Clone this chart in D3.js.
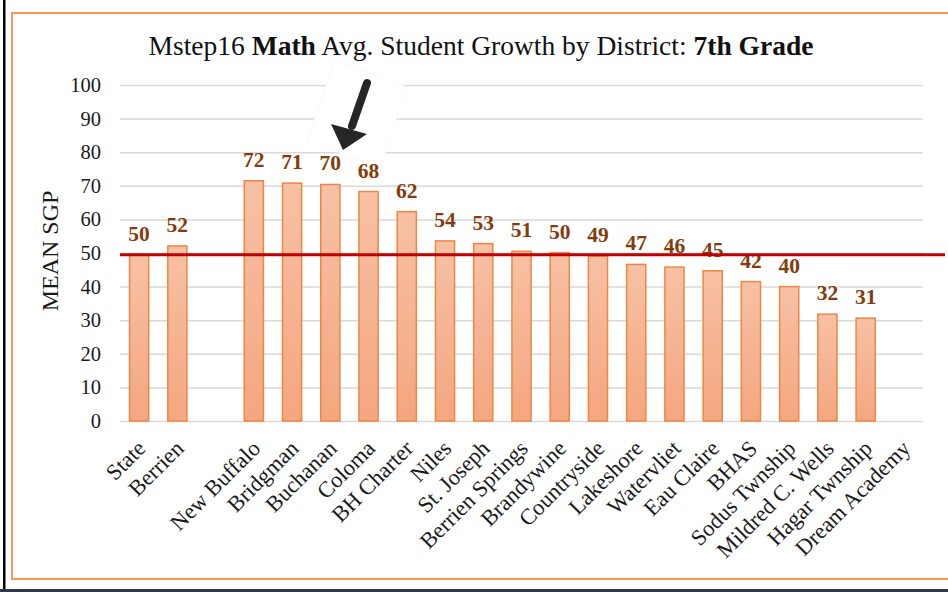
<!DOCTYPE html>
<html>
<head>
<meta charset="utf-8">
<script src="https://cdn.jsdelivr.net/npm/d3@7"></script>
<style>
  body { margin: 0; background: #fff; }
  svg { display: block; }
</style>
</head>
<body>
<div id="chart"></div>
<script>
// districts in plot order; the blank slot is the gap after Berrien
const districts = ['State', 'Berrien', ' ', 'New Buffalo', 'Bridgman', 'Buchanan', 'Coloma', 'BH Charter',
  'Niles', 'St. Joseph', 'Berrien Springs', 'Brandywine', 'Countryside', 'Lakeshore', 'Watervliet',
  'Eau Claire', 'BHAS', 'Sodus Twnship', 'Mildred C. Wells', 'Hagar Twnship', 'Dream Academy'];
const meanSgp = [49.5, 52.1, null, 71.5, 70.8, 70.4, 68.3, 62.3,
  53.6, 52.8, 50.5, 50.1, 49.1, 46.6, 45.8,
  44.7, 41.5, 40.0, 31.8, 30.6, null];
const yTicks = [0, 10, 20, 30, 40, 50, 60, 70, 80, 90, 100];
const stateAvg = meanSgp[0];

const W = 948, H = 592;
const serif = '"Liberation Serif", "Times New Roman", serif';

const svg = d3.select('#chart').append('svg').attr('width', W).attr('height', H);

const defs = svg.append('defs');
const grad = defs.append('linearGradient').attr('id', 'barGrad')
  .attr('x1', 0).attr('y1', 0).attr('x2', 0).attr('y2', 1);
grad.append('stop').attr('offset', '0%').attr('stop-color', '#F7C1A5');
grad.append('stop').attr('offset', '100%').attr('stop-color', '#F4A67F');

// page frame
svg.append('rect').attr('x', 3).attr('y', 0).attr('width', 2.5).attr('height', H).attr('fill', '#000');
svg.append('rect').attr('x', 0).attr('y', 589).attr('width', W).attr('height', 3).attr('fill', '#2b3a44');
svg.append('path').attr('d', `M${W + 5},13 H12 V579 H${W + 5}`)
  .attr('fill', 'none').attr('stroke', '#F39A5B').attr('stroke-width', 2);

const x = d3.scaleBand().domain(districts).range([120, 923]).paddingInner(0.5).paddingOuter(0.25);
const y = d3.scaleLinear().domain([0, 100]).range([421, 85]);

// gridlines + tick labels
svg.append('g')
  .attr('transform', 'translate(120,0)')
  .call(d3.axisLeft(y).tickValues(yTicks).tickSize(-(923 - 120)).tickPadding(19))
  .call(g => g.select('.domain').remove())
  .call(g => g.selectAll('.tick line').attr('stroke', '#D9D9D9').attr('stroke-width', 1.5))
  .call(g => g.selectAll('.tick text').attr('fill', '#1a1a1a')
    .attr('font-size', '20.5px').attr('font-family', serif));

// white picture box behind the arrow hides part of the gridlines
svg.append('polygon').attr('points', '335,60 407,87 380,168 307,141')
  .attr('fill', '#fff').attr('stroke', '#f0f0f0').attr('stroke-width', 0.5);

const rows = districts.map((d, i) => ({ name: d, value: meanSgp[i] })).filter(d => d.value != null);

svg.selectAll('.bar').data(rows).join('rect').attr('class', 'bar')
  .attr('x', d => x(d.name)).attr('width', x.bandwidth())
  .attr('y', d => y(d.value)).attr('height', d => y(0) - y(d.value))
  .attr('fill', 'url(#barGrad)').attr('stroke', '#EE8643').attr('stroke-width', 1.5);

svg.selectAll('.val-label').data(rows).join('text').attr('class', 'val-label')
  .attr('x', d => x(d.name) + x.bandwidth() / 2).attr('y', d => y(d.value) - 14)
  .attr('text-anchor', 'middle').attr('fill', '#843C0C')
  .attr('font-size', '21.5px').attr('font-weight', 'bold').attr('font-family', serif)
  .text(d => Math.round(d.value));

// state average line
svg.append('line').attr('x1', 120).attr('x2', 945)
  .attr('y1', y(stateAvg)).attr('y2', y(stateAvg))
  .attr('stroke', '#C00000').attr('stroke-width', 3);

// category labels
svg.selectAll('.x-label').data(districts).join('text').attr('class', 'x-label')
  .attr('transform', d => `translate(${x(d) + x.bandwidth() / 2 + 3},445) rotate(-45)`)
  .attr('text-anchor', 'end').attr('dy', '0.3em')
  .attr('fill', '#1a1a1a').attr('font-size', '22.5px').attr('font-family', serif)
  .text(d => d.trim());

// axis title
svg.append('text').attr('transform', `translate(58,${(y(0) + y(100)) / 2 - 2}) rotate(-90)`)
  .attr('text-anchor', 'middle').attr('fill', '#1a1a1a')
  .attr('font-size', '24px').attr('font-family', serif).text('MEAN SGP');

// chart title
const title = svg.append('text').attr('x', 481).attr('y', 55).attr('text-anchor', 'middle')
  .attr('fill', '#111').attr('font-size', '27.5px').attr('font-family', serif);
title.append('tspan').text('Mstep16 ');
title.append('tspan').attr('font-weight', 'bold').text('Math');
title.append('tspan').text(' Avg. Student Growth by District: ');
title.append('tspan').attr('font-weight', 'bold').text('7th Grade');

// arrow pointing at Buchanan
svg.append('line').attr('x1', 367).attr('y1', 83).attr('x2', 352).attr('y2', 126)
  .attr('stroke', '#262626').attr('stroke-width', 8).attr('stroke-linecap', 'round');
svg.append('path').attr('d', 'M331,124 L367,134 L343,150 Z').attr('fill', '#262626');
</script>
</body>
</html>
